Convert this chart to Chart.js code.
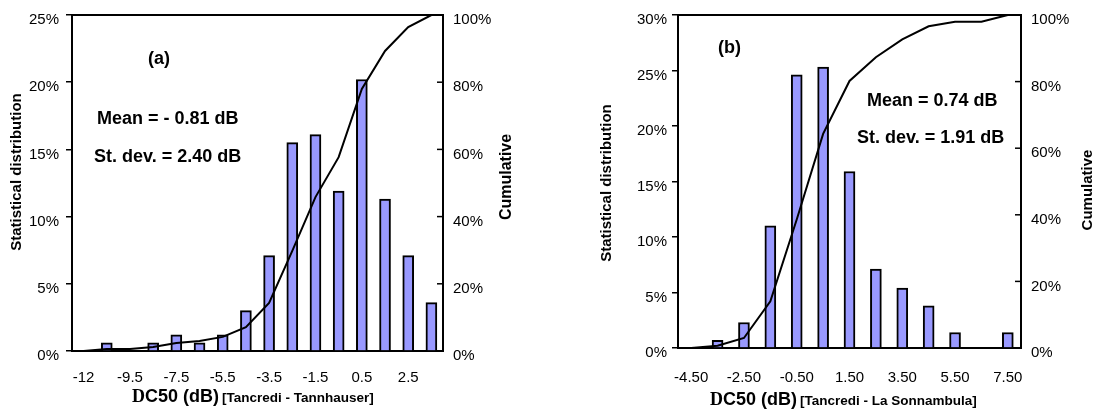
<!DOCTYPE html>
<html>
<head>
<meta charset="utf-8">
<script src="https://cdn.jsdelivr.net/npm/chart.js@4"></script>
<style>
  html, body { margin: 0; padding: 0; background: #fff; }
  #wrap { position: relative; width: 1097px; height: 409px; overflow: hidden; }
  .panel { position: absolute; top: 0; height: 409px; }
</style>
</head>
<body>
<div id="wrap">
  <div class="panel" style="left:0;width:540px"><canvas id="chartA" width="540" height="409"></canvas></div>
  <div class="panel" style="left:540px;width:557px"><canvas id="chartB" width="557" height="409"></canvas></div>
</div>
<script>
// Panel (a): Tancredi - Tannhauser
const binsA = ['-12', '-10.5', '-9.5', '-8.5', '-7.5', '-6.5', '-5.5', '-4.5',
               '-3.5', '-2.5', '-1.5', '-0.5', '0.5', '1.5', '2.5', '3.5'];
const distA = [0, 0.6, 0, 0.6, 1.2, 0.6, 1.2, 3.0, 7.1, 15.5, 16.1, 11.9, 20.2, 11.3, 7.1, 3.6];
const cumA  = [0, 0.6, 0.6, 1.2, 2.4, 3.0, 4.2, 7.1, 14.3, 29.8, 45.8, 57.7, 78.0, 89.3, 96.4, 100];

// Panel (b): Tancredi - La Sonnambula
const binsB = ['-4.50', '-3.50', '-2.50', '-1.50', '-0.50', '0.50', '1.50',
               '2.50', '3.50', '4.50', '5.50', '6.50', '7.50'];
const distB = [0, 0.7, 2.3, 11.0, 24.6, 25.3, 15.9, 7.1, 5.4, 3.8, 1.4, 0, 1.4];
const cumB  = [0, 0.7, 3.0, 14.0, 38.6, 64.3, 80.2, 87.3, 92.7, 96.6, 98.0, 98.0, 100];

const SANS = '"Liberation Sans", Arial, sans-serif';
const SERIF = '"Liberation Serif", "Times New Roman", serif';
const BAR_FILL = '#9999FF';

// Draws free text (annotations and axis titles) on top of the chart.
function textPlugin(items) {
  return {
    id: 'panelText',
    afterDraw(chart) {
      const ctx = chart.ctx;
      ctx.save();
      ctx.fillStyle = '#000';
      for (const it of items) {
        if (it.segments) {
          let x = it.x;
          ctx.textAlign = 'left';
          ctx.textBaseline = 'alphabetic';
          for (const s of it.segments) {
            ctx.font = s.font;
            ctx.fillText(s.text, x, it.y);
            x += ctx.measureText(s.text).width + (s.gap || 0);
          }
          continue;
        }
        ctx.font = it.font;
        if (it.rotate) {
          ctx.save();
          ctx.translate(it.x, it.y);
          ctx.rotate(-Math.PI / 2);
          ctx.textAlign = 'center';
          ctx.textBaseline = 'middle';
          ctx.fillText(it.text, 0, 0);
          ctx.restore();
        } else {
          ctx.textAlign = 'left';
          ctx.textBaseline = 'alphabetic';
          ctx.fillText(it.text, it.x, it.y);
        }
      }
      ctx.restore();
    }
  };
}

// Closes the plot box on top and puts inward tick marks on the right axis.
const framePlugin = {
  id: 'frame',
  afterDraw(chart) {
    const { ctx, chartArea: a } = chart;
    const y1 = chart.scales.y1;
    ctx.save();
    ctx.strokeStyle = '#000';
    ctx.lineWidth = 2;
    ctx.beginPath();
    ctx.moveTo(a.left, a.top);
    ctx.lineTo(a.right, a.top);
    ctx.stroke();
    ctx.lineWidth = 1.5;
    for (const t of y1.ticks) {
      const py = y1.getPixelForValue(t.value);
      ctx.beginPath();
      ctx.moveTo(a.right - 6, py);
      ctx.lineTo(a.right, py);
      ctx.stroke();
    }
    ctx.restore();
  }
};

function makeChart(id, cfg) {
  const tickFont = { family: SANS, size: 15 };
  return new Chart(document.getElementById(id), {
    type: 'bar',
    data: {
      labels: cfg.bins,
      datasets: [
        {
          type: 'line',
          data: cfg.cum,
          yAxisID: 'y1',
          borderColor: '#000',
          borderWidth: 2,
          pointRadius: 0,
          tension: 0,
          fill: false,
          order: 1
        },
        {
          type: 'bar',
          data: cfg.dist,
          yAxisID: 'y',
          backgroundColor: BAR_FILL,
          borderColor: '#000',
          borderWidth: 2,
          barThickness: cfg.barThickness,
          order: 2
        }
      ]
    },
    options: {
      responsive: false,
      animation: false,
      events: [],
      layout: { padding: { top: 15, left: 0, right: 0, bottom: 0 } },
      plugins: { legend: { display: false }, tooltip: { enabled: false } },
      scales: {
        x: {
          type: 'category',
          offset: true,
          grid: { display: false },
          border: { display: true, color: '#000', width: 2 },
          ticks: {
            autoSkip: false,
            maxRotation: 0,
            minRotation: 0,
            padding: cfg.xPad,
            color: '#000',
            font: tickFont,
            callback(v, i) { return i % 2 === 0 ? this.getLabelForValue(v) : ''; }
          },
          afterFit(s) { s.height = cfg.bottomH; s.paddingLeft = 0; s.paddingRight = 0; }
        },
        y: {
          position: 'left',
          min: 0,
          max: cfg.yMax,
          ticks: {
            stepSize: 5,
            color: '#000',
            font: tickFont,
            padding: cfg.yPad,
            labelOffset: 5,
            callback: v => v + '%'
          },
          grid: { drawOnChartArea: false, drawTicks: true, tickLength: 6, color: '#000', lineWidth: 1.5 },
          border: { color: '#000', width: 2 },
          afterFit(s) { s.width = cfg.leftW; s.paddingTop = 0; s.paddingBottom = 0; }
        },
        y1: {
          position: 'right',
          min: 0,
          max: 100,
          ticks: {
            stepSize: 20,
            color: '#000',
            font: tickFont,
            padding: 10,
            labelOffset: 5,
            callback: v => v + '%'
          },
          grid: { drawOnChartArea: false, drawTicks: false },
          border: { color: '#000', width: 2 },
          afterFit(s) { s.width = cfg.rightW; s.paddingTop = 0; s.paddingBottom = 0; }
        }
      }
    },
    plugins: [framePlugin, textPlugin(cfg.texts)]
  });
}

const ANNOT = 'bold 18px ' + SANS;
const AXT = 'bold 15px ' + SANS;

makeChart('chartA', {
  bins: binsA, dist: distA, cum: cumA, yMax: 25,
  leftW: 72, rightW: 97, bottomH: 58, xPad: 10, yPad: 7, barThickness: 11,
  texts: [
    { text: '(a)', x: 148, y: 64, font: ANNOT },
    { text: 'Mean = - 0.81 dB', x: 97, y: 124, font: ANNOT },
    { text: 'St. dev. = 2.40 dB', x: 94, y: 162, font: ANNOT },
    { text: 'Statistical distribution', x: 17, y: 172, font: AXT, rotate: true },
    { text: 'Cumulative', x: 507, y: 177, font: 'bold 16px ' + SANS, rotate: true },
    { x: 132, y: 402, segments: [
      { text: 'D', font: 'bold 18px ' + SERIF },
      { text: 'C50 (dB)', font: 'bold 18px ' + SANS, gap: 3 },
      { text: '[Tancredi - Tannhauser]', font: 'bold 13.5px ' + SANS }
    ] }
  ]
});

makeChart('chartB', {
  bins: binsB, dist: distB, cum: cumB, yMax: 30,
  leftW: 138, rightW: 76, bottomH: 61, xPad: 13, yPad: 5, barThickness: 11,
  texts: [
    { text: '(b)', x: 178, y: 53, font: ANNOT },
    { text: 'Mean = 0.74 dB', x: 327, y: 106, font: ANNOT },
    { text: 'St. dev. = 1.91 dB', x: 317, y: 143, font: ANNOT },
    { text: 'Statistical distribution', x: 67, y: 183, font: AXT, rotate: true },
    { text: 'Cumulative', x: 548, y: 190, font: AXT, rotate: true },
    { x: 170, y: 404.5, segments: [
      { text: 'D', font: 'bold 18px ' + SERIF },
      { text: 'C50 (dB)', font: 'bold 18px ' + SANS, gap: 3 },
      { text: '[Tancredi - La Sonnambula]', font: 'bold 13.5px ' + SANS }
    ] }
  ]
});
</script>
</body>
</html>
